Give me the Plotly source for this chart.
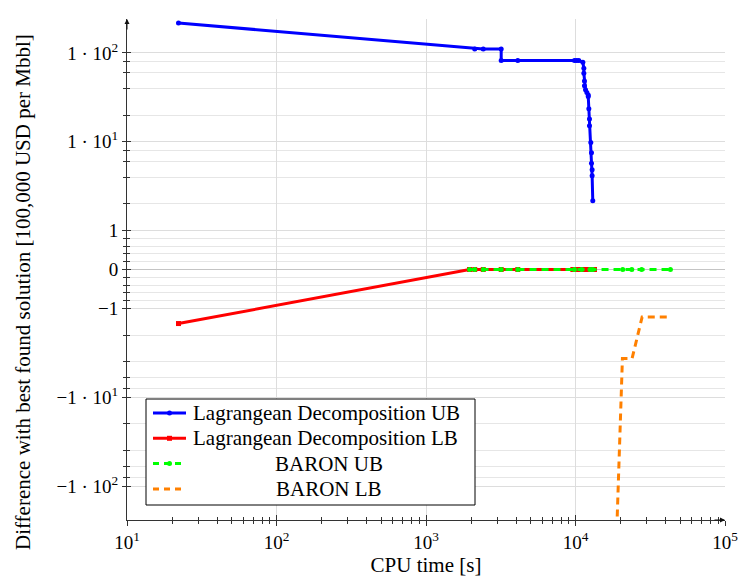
import math
import plotly.graph_objects as go

# ---------------- data ----------------
ld_ub_x = [22.1, 2118, 2415, 3184, 3184, 4111, 9840, 10180, 10520, 11200, 11370, 11370,
           11480, 11480, 11670, 11910, 12170, 12170, 12280, 12400, 12400, 12660, 12790,
           12790, 12920, 12920, 13050]
ld_ub_y = [217, 111, 111, 111, 82, 82, 82, 82, 82, 78.6, 67.3, 59.2,
           48.4, 42.6, 38.4, 35.8, 33.7, 32.3, 23.5, 18, 15.1, 9.78, 7.5,
           5.74, 4.83, 4.14, 2.16]

ld_lb_x = [22.1, 1955, 2118, 2415, 3184, 4111, 9600, 10000, 10500, 11000, 11500,
           12000, 12500, 13000, 13400]
ld_lb_y = [-1.48, 0, 0, 0, 0, 0, 0, 0, 0, 0, 0, 0, 0, 0, 0]

baron_ub_x = [1955, 2118, 2415, 3184, 4111, 9840, 11000, 12500, 13050, 20700, 23800, 27700, 43150]
baron_ub_y = [0, 0, 0, 0, 0, 0, 0, 0, 0, 0, 0, 0, 0]

baron_lb_x = [18900, 20600, 23900, 27900, 43600]
baron_lb_y = [-300, -3.67, -3.67, -1.25, -1.25]

series_names = ["Lagrangean Decomposition UB", "Lagrangean Decomposition LB",
                "BARON UB", "BARON LB"]

y_title = "Difference with best found solution [100,000 USD per Mbbl]"
x_title = "CPU time [s]"

y_major_vals = [100, 10, 1, 0, -1, -10, -100]
y_major_text = ["1 · 10<sup>2</sup>", "1 · 10<sup>1</sup>", "1", "0", "−1",
                "−1 · 10<sup>1</sup>", "−1 · 10<sup>2</sup>"]
y_minor_vals = [80, 60, 40, 20, 8, 6, 4, 2, 0.8, 0.6, 0.4, 0.2,
                -0.2, -0.4, -0.6, -0.8, -2, -4, -6, -8, -20, -40, -60, -80]

x_major_vals = [10, 100, 1000, 10000, 100000]
x_major_text = ["10<sup>1</sup>", "10<sup>2</sup>", "10<sup>3</sup>", "10<sup>4</sup>", "10<sup>5</sup>"]
x_minor_vals = [m * 10 ** e for e in range(1, 5) for m in range(2, 10)]

# symmetric-log transform (linear inside |y|<1)
K = 39 / 89


def symlog(v):
    if abs(v) < 1:
        return v * K
    return math.copysign(math.log10(abs(v)) + K, v)


def tr(vals):
    return [symlog(v) for v in vals]


Y_LIM = 2 + K + 34 / 89
FONT = "Liberation Serif, DejaVu Serif, serif"

# plot-area geometry (pixels)
W, H = 740, 586
ML, MR, MT, MB = 127, 15, 19, 66
PW, PH = W - ML - MR, H - MT - MB


def px(x):
    return (x - ML) / PW


def py(y):
    return (H - MB - y) / PH


colors = ["#0000ff", "#ff0000", "#00ff00", "#ff8000"]
DASH = "7px,5px"

fig = go.Figure()
fig.add_trace(go.Scatter(x=ld_ub_x, y=tr(ld_ub_y), mode="lines+markers",
                         name=series_names[0],
                         line=dict(color=colors[0], width=3),
                         marker=dict(symbol="circle", size=5, color=colors[0])))
fig.add_trace(go.Scatter(x=ld_lb_x, y=tr(ld_lb_y), mode="lines+markers",
                         name=series_names[1],
                         line=dict(color=colors[1], width=3),
                         marker=dict(symbol="square", size=5, color=colors[1])))
fig.add_trace(go.Scatter(x=baron_ub_x, y=tr(baron_ub_y), mode="lines+markers",
                         name=series_names[2],
                         line=dict(color=colors[2], width=3, dash=DASH),
                         marker=dict(symbol="circle", size=5, color=colors[2])))
fig.add_trace(go.Scatter(x=baron_lb_x, y=tr(baron_lb_y), mode="lines",
                         name=series_names[3],
                         line=dict(color=colors[3], width=3, dash=DASH)))
# helper trace for the overlay axes (inside tick marks)
fig.add_trace(go.Scatter(x=[None], y=[None], xaxis="x2", yaxis="y2",
                         showlegend=False, hoverinfo="skip"))

fig.update_layout(
    width=W, height=H,
    margin=dict(l=ML, r=MR, t=MT, b=MB, autoexpand=False),
    paper_bgcolor="white", plot_bgcolor="white",
    font=dict(family=FONT, size=19, color="black"),
    showlegend=False,
    xaxis=dict(type="log", range=[1, 5], tickmode="array", automargin=False,
               tickvals=x_major_vals, ticktext=x_major_text,
               ticks="outside", ticklen=5, tickcolor="#333", tickwidth=1,
               showgrid=True, gridcolor="#dddddd", gridwidth=1,
               showline=True, linecolor="#333", linewidth=1,
               zeroline=False,
               minor=dict(tickvals=x_minor_vals, ticks="outside", ticklen=3,
                          tickcolor="#333", showgrid=False),
               title=dict(text=x_title, standoff=3,
                          font=dict(family=FONT, size=21)),
               tickfont=dict(family=FONT, size=19)),
    yaxis=dict(range=[-Y_LIM, Y_LIM], tickmode="array", automargin=False,
               tickvals=tr(y_major_vals), ticktext=y_major_text,
               ticks="outside", ticklen=4, tickcolor="#333", tickwidth=1,
               showgrid=True, gridcolor="#dddddd", gridwidth=1,
               showline=True, linecolor="#333", linewidth=1,
               zeroline=True, zerolinecolor="#c4c4c4", zerolinewidth=1,
               minor=dict(tickvals=tr(y_minor_vals), ticks="outside", ticklen=3,
                          tickcolor="#333", showgrid=True, gridcolor="#e6e6e6"),
               tickfont=dict(family=FONT, size=19)),
    xaxis2=dict(type="log", range=[1, 5], overlaying="x", anchor="y2", side="bottom",
                tickmode="array", tickvals=x_major_vals, showticklabels=False,
                ticks="inside", ticklen=5, tickcolor="#333", showgrid=False,
                showline=False, zeroline=False, automargin=False,
                minor=dict(tickvals=x_minor_vals, ticks="inside", ticklen=3,
                           tickcolor="#333", showgrid=False)),
    yaxis2=dict(range=[-Y_LIM, Y_LIM], overlaying="y", anchor="x2", side="left",
                tickmode="array", tickvals=tr(y_major_vals), showticklabels=False,
                ticks="inside", ticklen=4, tickcolor="#333", showgrid=False,
                showline=False, zeroline=False, automargin=False,
                minor=dict(tickvals=tr(y_minor_vals), ticks="inside", ticklen=3,
                           tickcolor="#333", showgrid=False)),
)

# y-axis title (placed as pgfplots does, slightly below the plot centre)
fig.add_annotation(x=px(23), y=py(292), xref="paper", yref="paper", text=y_title,
                   textangle=-90, showarrow=False, xanchor="center", yanchor="middle",
                   font=dict(family=FONT, size=21, color="black"))

# axis arrows
fig.add_annotation(x=0, y=1, xref="paper", yref="paper", text="", showarrow=True,
                   ax=0, ay=12, axref="pixel", ayref="pixel", arrowhead=2,
                   arrowsize=1, arrowwidth=1, arrowcolor="#111")
fig.add_annotation(x=1, y=0, xref="paper", yref="paper", text="", showarrow=True,
                   ax=-12, ay=0, axref="pixel", ayref="pixel", arrowhead=2,
                   arrowsize=1, arrowwidth=1, arrowcolor="#111")

# ---------------- legend (drawn manually to match the pgfplots look) ----------------
LX0, LX1, LY0, LY1 = 146, 475, 399, 505
fig.add_shape(type="rect", xref="paper", yref="paper",
              x0=px(LX0), x1=px(LX1), y0=py(LY1), y1=py(LY0),
              line=dict(color="black", width=1), fillcolor="white", layer="above")
row_y = [LY0 + 14 + 25.3 * i for i in range(4)]
sample_x0, sample_x1 = 153, 186
text_left = 193
text_center = 329
for i, (name, col) in enumerate(zip(series_names, colors)):
    yy = py(row_y[i])
    dashed = i >= 2
    fig.add_shape(type="line", xref="paper", yref="paper",
                  x0=px(sample_x0), x1=px(sample_x1 - (3 if dashed else 0)),
                  y0=yy, y1=yy,
                  line=dict(color=col, width=3, dash=("6px,5px" if dashed else "solid")),
                  layer="above")
    cx = (sample_x0 + sample_x1) / 2
    if i in (0, 2):
        fig.add_shape(type="circle", xref="paper", yref="paper",
                      x0=px(cx - 2.5), x1=px(cx + 2.5),
                      y0=yy - 2.5 / PH, y1=yy + 2.5 / PH,
                      line=dict(color=col, width=0), fillcolor=col, layer="above")
    elif i == 1:
        fig.add_shape(type="rect", xref="paper", yref="paper",
                      x0=px(cx - 2.5), x1=px(cx + 2.5),
                      y0=yy - 2.5 / PH, y1=yy + 2.5 / PH,
                      line=dict(color=col, width=0), fillcolor=col, layer="above")
    if dashed:
        fig.add_annotation(x=px(text_center), y=yy, xref="paper", yref="paper",
                           text=name, showarrow=False, xanchor="center", yanchor="middle",
                           font=dict(family=FONT, size=21, color="black"))
    else:
        fig.add_annotation(x=px(text_left), y=yy, xref="paper", yref="paper",
                           text=name, showarrow=False, xanchor="left", yanchor="middle",
                           xshift=-2,
                           font=dict(family=FONT, size=21, color="black"))

fig.write_html("out.html")
